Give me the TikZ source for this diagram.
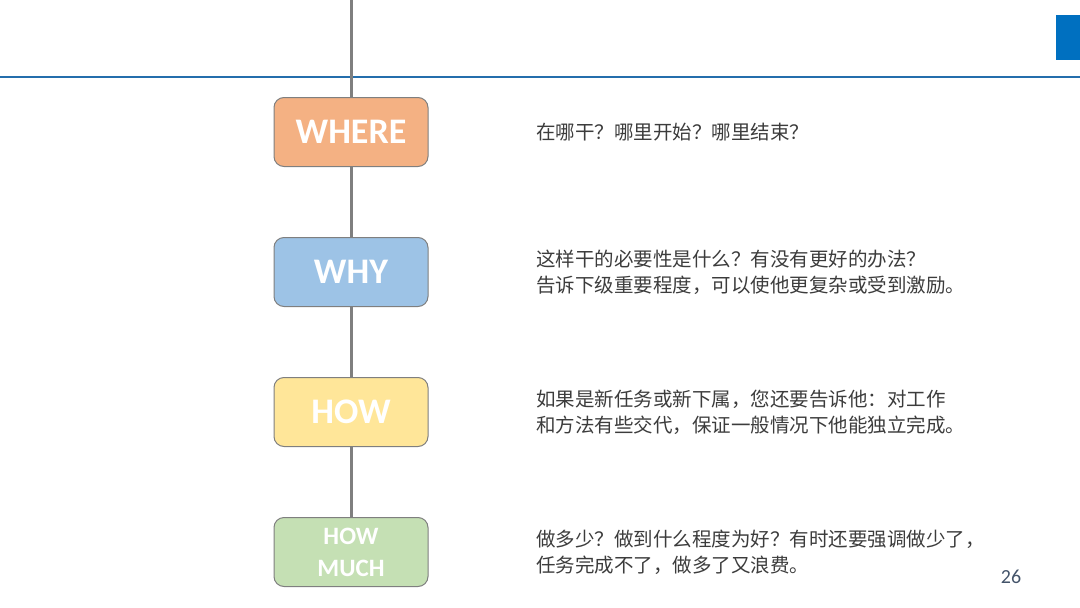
\documentclass[tikz,border=0pt]{standalone}
\usepackage{fontspec}
\setmainfont{Carlito}
\newfontfamily\cjk{Noto Sans CJK SC}
\usetikzlibrary{positioning}
\definecolor{linegray}{RGB}{127,127,127}
\definecolor{textgray}{RGB}{60,60,60}
\definecolor{numgray}{RGB}{68,84,106}
\definecolor{headerblue}{RGB}{36,110,172}
\definecolor{accent}{RGB}{0,112,192}
\definecolor{orangefill}{RGB}{244,177,131}
\definecolor{bluefill}{RGB}{157,195,230}
\definecolor{yellowfill}{RGB}{255,230,153}
\definecolor{greenfill}{RGB}{197,224,180}
\tikzset{stage/.style={draw=linegray, line width=1pt, rounded corners=10pt,
    minimum width=154pt, minimum height=69pt, inner sep=0pt, align=center, text=white},
  note/.style={align=left, text=textgray, font=\cjk\fontsize{19.5}{26}\selectfont},
  spine/.style={linegray, line width=3pt}}

\begin{document}
\begin{tikzpicture}[x=1pt,y=-1pt]
  \useasboundingbox (0,0) rectangle (1080,608);
  % header
  \draw[headerblue, line width=2pt] (0,77) -- (1080,77);
  \fill[accent] (1056,15) rectangle (1080,60);
  \coordinate (top) at (351,0);
  \foreach \i/\y/\c/\s/\b/\t in {1/132/orangefill/36/38/WHERE, 2/272/bluefill/36/38/WHY,
      3/412/yellowfill/36/38/HOW, 4/552/greenfill/25/32/{HOW\\MUCH}}{
    \node[stage, fill=\c, font=\bfseries\fontsize{\s}{\b}\selectfont] (b\i) at (351,\y) {\t};}
  \draw[spine] (top) -- (b1);
  \foreach \i/\j in {1/2, 2/3, 3/4}
    \draw[spine] (b\i) -- (b\j);
  % notes
  \node[note, right=104pt of b1] (n1) {在哪干？哪里开始？哪里结束？};
  \node[note, right=104pt of b2] (n2) {这样干的必要性是什么？有没有更好的办法？\\告诉下级重要程度，可以使他更复杂或受到激励。};
  \node[note, right=104pt of b3] (n3) {如果是新任务或新下属，您还要告诉他：对工作\\和方法有些交代，保证一般情况下他能独立完成。};
  \node[note, right=104pt of b4] (n4) {做多少？做到什么程度为好？有时还要强调做少了，\\任务完成不了，做多了又浪费。};
  \node[text=numgray, font=\fontsize{20}{24}\selectfont] (page) at (1011,577) {26};
\end{tikzpicture}
\end{document}
